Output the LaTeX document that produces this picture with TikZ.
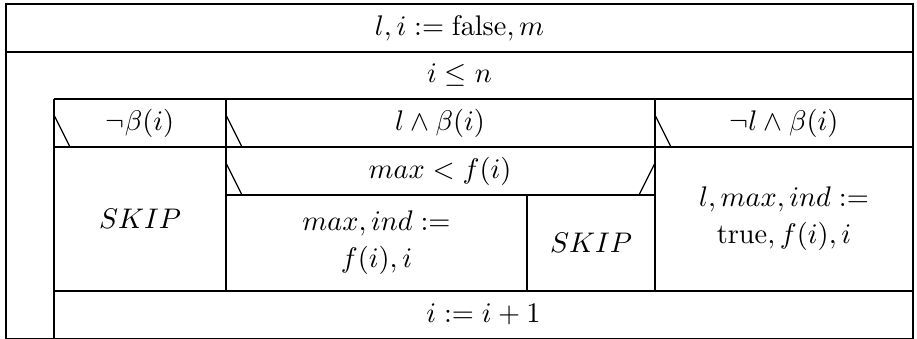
\documentclass[tikz,border=0pt]{standalone}
\usepackage{amsmath,amssymb}
\usepackage{tikz}

\begin{document}
\begin{tikzpicture}[
  x=0.01239cm, y=-0.01239cm,
  line width=0.4pt,
  cell/.style={align=center, inner sep=0pt},
  tick/.style={line width=0.4pt},
]
\useasboundingbox (0,0) rectangle (917,339);

%% --- Frame ---
\draw (6,4) rectangle (913,339);
\draw (6,52) -- (913,52);
\draw (54,99) -- (913,99);
\draw (54,99) -- (54,339);
\draw (54,147) -- (913,147);
\draw (54,291) -- (913,291);
\draw (226,99) -- (226,291);
\draw (655,99) -- (655,291);
\draw (226,195) -- (655,195);
\draw (527,195) -- (527,291);

%% --- Condition ticks ---
\draw[tick] (54,115)  -- (70,147);
\draw[tick] (226,115) -- (242,147);
\draw[tick] (655,115) -- (671,147);
\draw[tick] (226,163) -- (242,195);
\draw[tick] (655,163) -- (639,195);

%% --- Texts ---
\node[cell] (init)  at (459.5,28)  {$l, i := \mathrm{false}, m$};
\node[cell] (loop)  at (459.5,75)  {$i \le n$};
\node[cell] (nobeta) at (140,123)  {$\neg\beta(i)$};
\node[cell] (lbeta)  at (440,123)  {$l \wedge \beta(i)$};
\node[cell] (nlbeta) at (784,123)  {$\neg l \wedge \beta(i)$};
\node[cell] (cmp)    at (440,171)  {$max < f(i)$};
\node[cell] (skipa)  at (140,219)  {$SKIP$};
\node[cell] (upd)    at (376.5,243) {$max, ind :=$\\[1pt]$f(i), i$};
\node[cell] (skipb)  at (591,243)  {$SKIP$};
\node[cell] (first)  at (784,219)  {$l, max, ind :=$\\[1pt]$\mathrm{true}, f(i), i$};
\node[cell] (inc)    at (483.5,314.5) {$i := i + 1$};

\end{tikzpicture}
\end{document}
